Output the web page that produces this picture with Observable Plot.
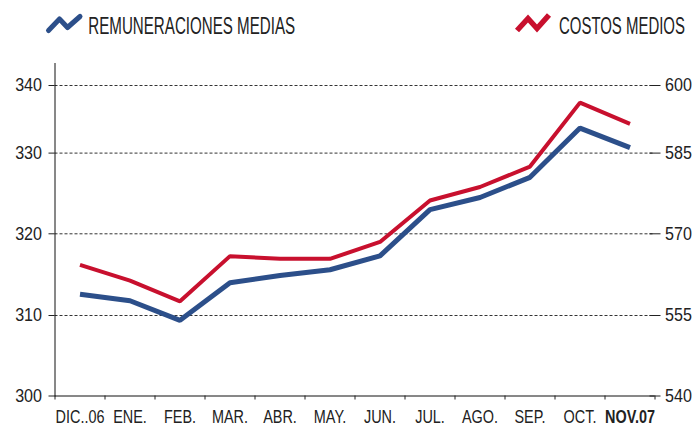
<!DOCTYPE html>
<html><head><meta charset="utf-8">
<script src="https://cdn.jsdelivr.net/npm/d3@7"></script>
<script src="https://cdn.jsdelivr.net/npm/@observablehq/plot@0.6"></script>
<style>
html,body{margin:0;padding:0;background:#fff;}
#chart{width:696px;height:428px;overflow:hidden;}
#chart svg{display:block;}
</style></head><body><div id="chart"></div>
<script>
const months = ["DIC..06","ENE.","FEB.","MAR.","ABR.","MAY.","JUN.","JUL.","AGO.","SEP.","OCT.","NOV.07"];
const remuneraciones = [312.6,311.8,309.4,314.0,314.9,315.6,317.3,323.0,324.5,327.0,333.7,330.8];
const costos = [564.3,561.4,557.6,565.9,565.4,565.4,568.5,576.2,578.7,582.5,596.2,591.5];
const leftTicks = [300,310,320,330,340];
const rightTicks = [540,555,570,585,600];
const seriesNames = ["REMUNERACIONES MEDIAS","COSTOS MEDIOS"];
const seriesColors = ["#2c4f8a","#c8102e"];

const toLeft = r => 300 + (r - 540) / 1.5;
const fromLeft = l => 540 + (l - 300) * 1.5;
const FONT = "'Liberation Sans', Arial, sans-serif";

// Legend (SVG above the plot)
const legend = d3.create("svg").attr("width", 696).attr("height", 50)
  .attr("font-family", FONT).attr("fill", "#222");
legend.append("polyline").attr("points", "48.5,30.5 59.5,19 67.5,27.5 80,16.5")
  .attr("fill", "none").attr("stroke", seriesColors[0]).attr("stroke-width", 5)
  .attr("stroke-linecap", "round").attr("stroke-linejoin", "round");
legend.append("polyline").attr("points", "517,30.5 528,18.5 537,28.5 549,15")
  .attr("fill", "none").attr("stroke", seriesColors[1]).attr("stroke-width", 5.5)
  .attr("stroke-linecap", "butt").attr("stroke-linejoin", "miter");
const legendItems = [
  {name: seriesNames[0], x: 88.3, y: 34.3, w: 207},
  {name: seriesNames[1], x: 559, y: 33.6, w: 126}
];

const data = months.map((m, i) => ({i, m, rem: remuneraciones[i], cos: toLeft(costos[i])}));

const plot = Plot.plot({
  width: 696, height: 378,
  marginLeft: 54.5, marginRight: 41.5, marginTop: 13, marginBottom: 32.5,
  style: {fontFamily: FONT, fontSize: "18.5px", color: "#222", background: "#fff", overflow: "visible"},
  x: {type: "linear", domain: [-0.5, 11.5], axis: null, label: null},
  y: {type: "linear", domain: [300, 310, 320, 330, 340, 343.26], range: [345.5, 265, 183.3, 102.6, 35, 13], axis: null, label: null},
  marks: [
    Plot.ruleY(leftTicks.slice(1), {stroke: "#333", strokeDasharray: "3,2", strokeWidth: 1}),
    Plot.ruleY([leftTicks[0]], {stroke: "#111", strokeWidth: 1}),
    Plot.frame({anchor: "left", stroke: "#111", strokeWidth: 1}),
    Plot.axisY({anchor: "left", ticks: leftTicks, tickSize: 6, tickPadding: 7, tickFormat: d => String(d), label: null}),
    Plot.axisY({anchor: "right", ticks: rightTicks.map(toLeft), tickFormat: d => String(Math.round(fromLeft(d))), tickSize: 11, dx: -6, tickPadding: 5, label: null}),
    Plot.axisX({ticks: d3.range(months.length + 1).map(k => k - 0.5), tickSize: 4, tickFormat: () => "", label: null}),
    Plot.axisX({ticks: d3.range(months.length - 1), tickFormat: i => months[i], tickSize: 0, tickPadding: 14, label: null}),
    Plot.axisX({ticks: [months.length - 1], tickFormat: i => months[i], tickSize: 0, tickPadding: 14, fontWeight: "bold", label: null}),
    Plot.line(data, {x: "i", y: "rem", stroke: seriesColors[0], strokeWidth: 5, strokeLinejoin: "miter", strokeLinecap: "butt"}),
    Plot.line(data, {x: "i", y: "cos", stroke: seriesColors[1], strokeWidth: 4, strokeLinejoin: "miter", strokeLinecap: "butt"})
  ]
});

const chart = document.getElementById("chart");
chart.appendChild(legend.node());
chart.appendChild(plot);

// Condensed look: legend text scaled horizontally to the reference widths
for (const it of legendItems) {
  const g = legend.append("g");
  const t = g.append("text").attr("font-size", 24).text(it.name);
  const len = t.node().getComputedTextLength();
  g.attr("transform", `translate(${it.x},${it.y}) scale(${it.w / len},1)`);
}
// Condense axis labels (months narrower than digits): horizontal scale around each label's anchor
d3.select(plot).selectAll("text").each(function() {
  const s = this.textContent;
  if (!s) return;
  const f = months.includes(s) ? 0.78 : 0.87;
  const tr = this.getAttribute("transform") || "";
  this.setAttribute("transform", `${tr} scale(${f},1)`.trim());
});
</script></body></html>
